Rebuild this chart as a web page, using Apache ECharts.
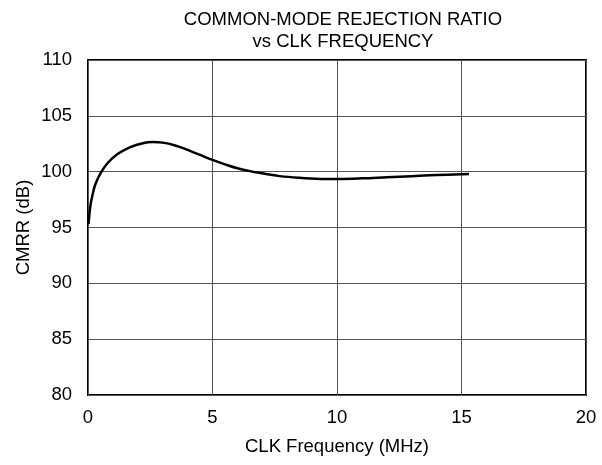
<!DOCTYPE html>
<html><head><meta charset="utf-8">
<script src="https://cdn.jsdelivr.net/npm/echarts@6/dist/echarts.min.js"></script>
<style>html,body{margin:0;padding:0;background:#fff}#c{width:602px;height:465px}</style>
</head><body><div id="c"></div>
<script>
const freqMHz = [0.02,0.1,0.17,0.3,0.54,0.8,1.2,1.7,2.2,2.6,3.0,3.5,4.0,4.5,5.0,5.5,6.0,6.5,7.0,7.7,8.5,9.5,10,11,12,13,14,15.3];
const cmrrDb  = [95.3,97.0,97.8,98.9,100.0,100.8,101.6,102.2,102.55,102.65,102.6,102.35,101.95,101.5,101.05,100.65,100.3,100.05,99.85,99.6,99.45,99.35,99.35,99.4,99.5,99.6,99.7,99.8];
const titleLines = ['COMMON-MODE REJECTION RATIO','vs CLK FREQUENCY'];
const xName = 'CLK Frequency (MHz)';
const yName = 'CMRR (dB)';

const chart = echarts.init(document.getElementById('c'), null, {renderer:'canvas'});
const font = 'Liberation Sans, Arial, sans-serif';
const fs = 18.5;
chart.setOption({
  animation:false,
  title:{text:titleLines.join('\n'), left:338, top:4, textAlign:'center',
    textStyle:{fontFamily:font,fontSize:fs,fontWeight:'normal',color:'#000',lineHeight:22}},
  grid:{left:88,right:16,top:60,bottom:70,show:true,borderColor:'#000',borderWidth:2,backgroundColor:'transparent'},
  xAxis:{type:'value',min:0,max:20,interval:5,name:xName,nameLocation:'middle',nameGap:42,nameMoveOverlap:false,
    nameTextStyle:{fontFamily:font,fontSize:fs,color:'#000'},
    axisLine:{show:false},axisTick:{show:false},
    axisLabel:{fontFamily:font,fontSize:fs,color:'#000',margin:13},
    splitLine:{show:true,lineStyle:{color:'#555',width:1}}},
  yAxis:{type:'value',min:80,max:110,interval:5,name:yName,nameLocation:'middle',nameGap:55,nameMoveOverlap:false,
    nameTextStyle:{fontFamily:font,fontSize:fs,color:'#000'},
    axisLine:{show:false},axisTick:{show:false},
    axisLabel:{fontFamily:font,fontSize:fs,color:'#000',margin:16},
    splitLine:{show:true,lineStyle:{color:'#555',width:1}}},
  series:[{type:'line',data:freqMHz.map((f,i)=>[f,cmrrDb[i]]),smooth:0.4,showSymbol:false,
    lineStyle:{color:'#000',width:2.5}}]
});
</script></body></html>
